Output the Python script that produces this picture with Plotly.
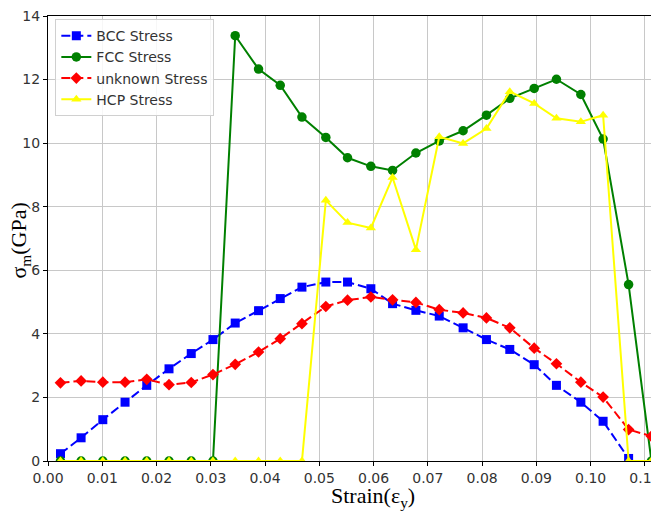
import plotly.graph_objects as go

# ---- data ----
strain = [0.0023, 0.0061, 0.0101, 0.0142, 0.0182, 0.0223, 0.0264, 0.0304,
          0.0345, 0.0388, 0.0428, 0.0468, 0.0512, 0.0552, 0.0595, 0.0635,
          0.0678, 0.0721, 0.0765, 0.0808, 0.0851, 0.0896, 0.0937, 0.0982,
          0.1023, 0.1070, 0.1112]

bcc_stress = [0.23, 0.73, 1.30, 1.85, 2.38, 2.90, 3.38, 3.82, 4.34, 4.73,
              5.11, 5.47, 5.63, 5.63, 5.42, 4.95, 4.74, 4.56, 4.19, 3.82,
              3.51, 3.03, 2.38, 1.85, 1.25, 0.08]

fcc_stress = [0, 0, 0, 0, 0, 0, 0, 0, 13.38, 12.33, 11.82, 10.82, 10.18,
              9.54, 9.27, 9.14, 9.69, 10.07, 10.39, 10.88, 11.41, 11.72,
              12.01, 11.53, 10.13, 5.55, 0]

unknown_stress = [2.46, 2.52, 2.48, 2.48, 2.57, 2.40, 2.47, 2.72, 3.04,
                  3.43, 3.85, 4.32, 4.86, 5.06, 5.16, 5.07, 4.99, 4.76,
                  4.66, 4.50, 4.19, 3.55, 3.06, 2.48, 2.01, 0.99, 0.78]

hcp_stress = [0, 0, 0, 0, 0, 0, 0, 0, 0, 0, 0, 0, 8.20, 7.50, 7.33, 8.92,
              6.65, 10.20, 9.99, 10.46, 11.62, 11.25, 10.78, 10.67, 10.88,
              0, 0]

series_names = ["BCC Stress", "FCC Stress", "unknown Stress", "HCP Stress"]
x_ticks = [0.00, 0.01, 0.02, 0.03, 0.04, 0.05, 0.06, 0.07, 0.08, 0.09, 0.10, 0.11]
y_ticks = [0, 2, 4, 6, 8, 10, 12, 14]

fig = go.Figure()

fig.add_trace(go.Scatter(
    x=strain[:len(bcc_stress)], y=bcc_stress, name=series_names[0],
    mode="lines+markers",
    line=dict(color="#0000ff", width=2, dash="9px,4px"),
    marker=dict(symbol="square", size=9, color="#0000ff"),
))
fig.add_trace(go.Scatter(
    x=strain, y=fcc_stress, name=series_names[1],
    mode="lines+markers",
    line=dict(color="#008000", width=2),
    marker=dict(symbol="circle", size=9.5, color="#008000"),
))
fig.add_trace(go.Scatter(
    x=strain, y=unknown_stress, name=series_names[2],
    mode="lines+markers",
    line=dict(color="#ff0000", width=2, dash="9px,4px"),
    marker=dict(symbol="diamond", size=9, color="#ff0000"),
))
fig.add_trace(go.Scatter(
    x=strain, y=hcp_stress, name=series_names[3],
    mode="lines+markers",
    line=dict(color="#ffff00", width=2),
    marker=dict(symbol="triangle-up", size=9, color="#ffff00"),
))

tick_font = dict(family="DejaVu Sans", size=14, color="#333333")

# the page body has an 8px margin, so the figure is sized to the visible area
fig.update_layout(
    width=651, height=505,
    margin=dict(l=40, r=0, t=8, b=52, autoexpand=False),
    paper_bgcolor="white", plot_bgcolor="white",
    showlegend=True,
    legend=dict(
        x=0.012, y=0.993, xanchor="left", yanchor="top",
        bgcolor="rgba(255,255,255,0.85)",
        bordercolor="#d0d0d0", borderwidth=1,
        font=dict(family="DejaVu Sans", size=14, color="#333333"),
        tracegroupgap=0,
    ),
    xaxis=dict(
        range=[0, 0.1126], automargin=False,
        tickvals=x_ticks, ticktext=[f"{v:.2f}" for v in x_ticks],
        tickfont=tick_font, ticklabeloverflow="allow",
        showgrid=True, gridcolor="#c8c8c8", gridwidth=1,
        zeroline=False,
        showline=True, linecolor="black", linewidth=1.2, mirror=True,
        ticks="outside", ticklen=4, tickcolor="black",
    ),
    yaxis=dict(
        range=[0, 14], automargin=False,
        tickvals=y_ticks, ticktext=[str(v) for v in y_ticks],
        tickfont=tick_font, ticklabeloverflow="allow",
        showgrid=True, gridcolor="#c8c8c8", gridwidth=1,
        zeroline=False,
        showline=True, linecolor="black", linewidth=1.2,
        ticks="outside", ticklen=4, tickcolor="black",
    ),
    annotations=[
        dict(text="Strain(ε<sub>y</sub>)", xref="paper", yref="paper",
             x=0.532, y=-0.082, xanchor="center", yanchor="middle",
             showarrow=False, borderpad=0,
             font=dict(family="Liberation Serif", size=22, color="black")),
        dict(text="σ<sub>m</sub>(GPa)", xref="paper", yref="paper",
             x=-0.046, y=0.495, xanchor="center", yanchor="middle",
             textangle=-90, showarrow=False, borderpad=0,
             font=dict(family="Liberation Serif", size=22, color="black")),
    ],
)

fig.write_html("out.html")
